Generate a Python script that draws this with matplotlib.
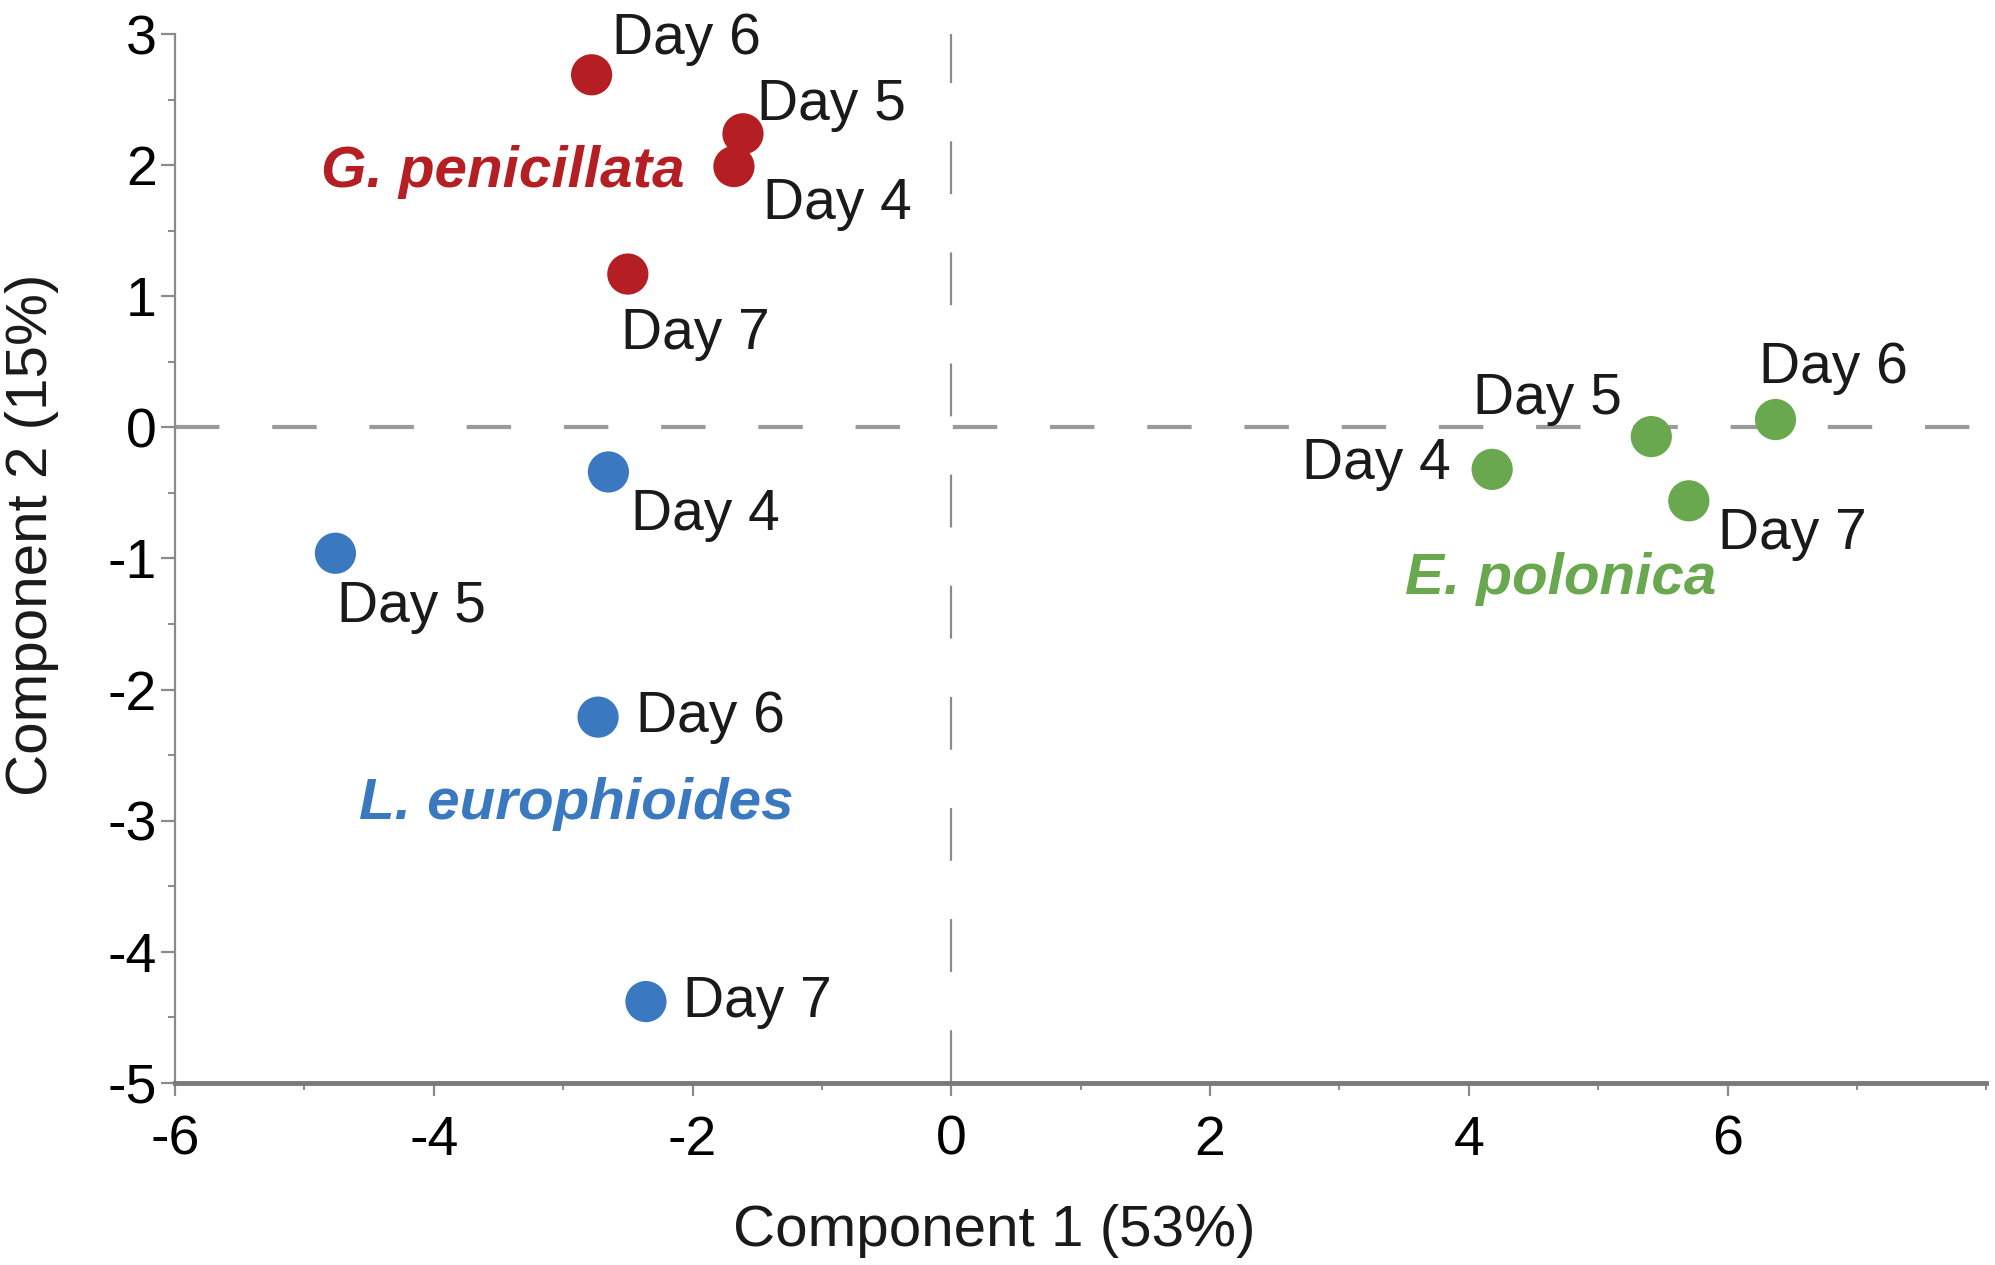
import matplotlib
matplotlib.use('Agg')
import matplotlib.pyplot as plt
from matplotlib.ticker import MultipleLocator

plt.rcParams['font.family'] = ['Liberation Sans', 'DejaVu Sans']
plt.rcParams['lines.scale_dashes'] = False
plt.rcParams['axes.unicode_minus'] = False

# Scores PCA
jours = ['Day 4', 'Day 5', 'Day 6', 'Day 7']

gp_x = [-1.68, -1.61, -2.78, -2.50]
gp_y = [1.99, 2.24, 2.69, 1.17]

le_x = [-2.65, -4.76, -2.73, -2.36]
le_y = [-0.34, -0.96, -2.21, -4.38]

ep_x = [4.18, 5.41, 6.37, 5.70]
ep_y = [-0.32, -0.07, 0.06, -0.56]

especes = ['G. penicillata', 'L. europhioides', 'E. polonica']
couleurs = ['#b51f24', '#3a78c0', '#6aa84f']

# décalage des étiquettes (points) et alignement
dec_gp = [(21, -27, 'left'), (10, 21, 'left'), (15, 26, 'left'), (-5, -43, 'left')]
dec_le = [(16, -31, 'left'), (1, -39, 'left'), (27, 0, 'left'), (27, 0, 'left')]
dec_ep = [(-30, 4, 'right'), (-21, 27, 'right'), (-12, 37, 'left'), (21, -24, 'left')]

pos_especes = [(-3.47, 1.95), (-2.90, -2.87), (4.71, -1.16)]

fig = plt.figure(figsize=(19.95, 12.65), dpi=100)
ax = fig.add_axes([0.0877, 0.144, 0.908, 0.829])

ax.axhline(0, color='#9a9a9a', lw=3, dashes=(32, 38), zorder=1)
ax.axvline(0, color='#8a8a8a', lw=1.6, dashes=(38, 42), zorder=1)

groupes = [(gp_x, gp_y, dec_gp), (le_x, le_y, dec_le), (ep_x, ep_y, dec_ep)]
for (xs, ys, decs), coul in zip(groupes, couleurs):
    ax.scatter(xs, ys, s=880, color=coul, edgecolors='none', zorder=3)
    for x, y, j, (dx, dy, ha) in zip(xs, ys, jours, decs):
        ax.annotate(j, (x, y), xytext=(dx, dy), textcoords='offset points',
                    ha=ha, va='center', fontsize=41, color='#1a1a1a')

for nom, (px, py), coul in zip(especes, pos_especes, couleurs):
    ax.text(px, py, nom, color=coul, fontsize=42, fontweight='bold', fontstyle='italic',
            ha='center', va='center')

ax.set_xlim(-6, 8)
ax.set_ylim(-5, 3)
ax.set_xticks([-6, -4, -2, 0, 2, 4, 6])
ax.set_yticks(range(-5, 4))
ax.xaxis.set_minor_locator(MultipleLocator(1))
ax.yaxis.set_minor_locator(MultipleLocator(0.5))

for s in ['top', 'right']:
    ax.spines[s].set_visible(False)
ax.spines['bottom'].set_color('#7a7a7a')
ax.spines['bottom'].set_linewidth(3.5)
ax.spines['left'].set_color('#8a8a8a')
ax.spines['left'].set_linewidth(1.6)

ax.tick_params(axis='x', which='major', length=9, width=1.6, color='#8a8a8a', labelsize=40, pad=14)
ax.tick_params(axis='x', which='minor', length=5, width=1.4, color='#8a8a8a')
ax.tick_params(axis='y', which='major', length=10, width=1.6, color='#8a8a8a', labelsize=40, pad=3)
ax.tick_params(axis='y', which='minor', length=5, width=1.4, color='#8a8a8a')

ax.set_xlabel('Component 1 (53%)', fontsize=42, color='#1a1a1a')
ax.set_ylabel('Component 2 (15%)', fontsize=42, color='#1a1a1a')
ax.xaxis.set_label_coords(0.4525, -0.116)
ax.yaxis.set_label_coords(-0.064, 0.523)

fig.savefig('out.png', dpi=100)
